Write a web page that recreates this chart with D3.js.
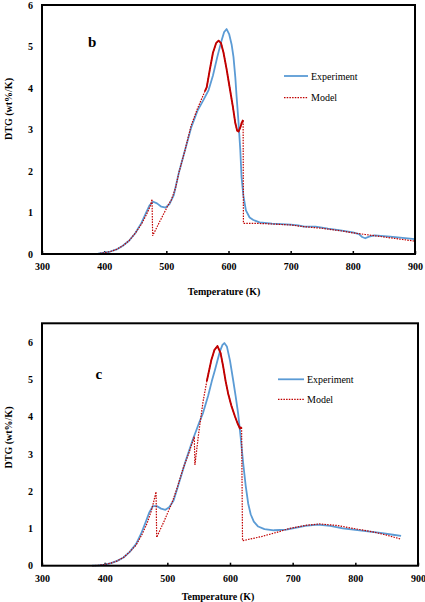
<!DOCTYPE html>
<html><head><meta charset="utf-8">
<script src="https://cdn.jsdelivr.net/npm/d3@7"></script>
<style>html,body{margin:0;padding:0;background:#fff;}svg{display:block;}
svg text{font-family:"Liberation Serif","Times New Roman",Times,serif;}</style>
</head><body>
<svg id="c" width="425" height="602"></svg>
<script>
// ---- data ----
const xTicks = [300, 400, 500, 600, 700, 800, 900];
const yTicksB = [0, 1, 2, 3, 4, 5, 6];
const yTicksC = [0, 1, 2, 3, 4, 5, 6];
const seriesNames = ["Experiment", "Model"];

// Panel b
const expB_T = [380,390,400,410,420,430,440,450,460,467,473,479,485,492,499,505,512,520,530,540,550,560,568,575,582,588,593,597,601,605,608,611,613,616,619,621,624,628,634,640,650,670,700,712,722,740,760,780,800,810,815,820,826,835,860,880,900];
const expB_V = [0,0.01,0.03,0.06,0.11,0.2,0.32,0.5,0.75,0.98,1.17,1.26,1.22,1.14,1.12,1.2,1.42,1.95,2.5,3.05,3.45,3.72,3.95,4.3,4.75,5.1,5.35,5.42,5.3,5.05,4.75,4.25,3.8,3.2,2.5,1.85,1.4,1.05,0.88,0.82,0.76,0.73,0.71,0.69,0.66,0.66,0.61,0.57,0.52,0.48,0.41,0.38,0.42,0.45,0.42,0.39,0.36];
const modB_T = [380,390,400,410,420,430,440,450,460,468,474,477,478,490,503,508,515,520,530,540,550,558,562,565,570,575,580,584,588,592,597,602,607,611,614,616,619,621,623.5,624,640,660,700,720,750,780,800,820,840,860,880,900];
const modB_V = [0,0.01,0.03,0.06,0.11,0.2,0.32,0.5,0.72,0.95,1.15,1.32,0.44,0.8,1.18,1.3,1.6,1.95,2.5,3.1,3.5,3.78,3.92,4.02,4.45,4.85,5.08,5.14,5.08,4.85,4.45,4.0,3.55,3.15,2.97,2.95,3.05,3.15,3.23,0.74,0.74,0.73,0.7,0.66,0.62,0.56,0.51,0.47,0.43,0.39,0.35,0.31];

// Panel c
const expC_T = [380,390,400,410,420,430,440,450,458,465,471,477,483,490,497,503,510,520,530,540,550,557,565,571,576,580,584,588,591,595,600,605,609,613,617,621,625,629,633,638,645,655,670,690,700,720,740,760,780,800,820,840,860,873];
const expC_V = [0,0.01,0.03,0.07,0.13,0.22,0.37,0.58,0.85,1.15,1.42,1.6,1.6,1.53,1.5,1.57,1.75,2.3,2.85,3.35,3.8,4.1,4.55,4.95,5.25,5.5,5.75,5.92,5.97,5.88,5.5,4.98,4.55,4.08,3.45,2.75,2.15,1.67,1.38,1.18,1.05,0.98,0.95,0.97,1.0,1.07,1.1,1.07,1.0,0.96,0.92,0.88,0.83,0.8];
const modC_T = [380,390,400,410,420,430,440,450,460,468,474,478,482,483,495,507,515,525,535,543,544,550,557,563,570,575,580,585,589,593,597,602,608,612,616,618.5,620,650,680,695,720,743,770,800,830,850,873];
const modC_V = [0,0.01,0.03,0.07,0.13,0.22,0.37,0.55,0.85,1.15,1.45,1.7,1.98,0.76,1.2,1.67,2.05,2.6,3.05,3.46,2.7,3.55,4.4,4.95,5.5,5.78,5.89,5.7,5.35,4.95,4.62,4.3,4.0,3.82,3.68,3.72,0.67,0.78,0.92,1.0,1.08,1.12,1.08,0.99,0.9,0.82,0.71];

// ---- drawing ----
const svg = d3.select("#c");
const BLUE = "#5b9bd5", RED = "#c00000";

function panel(o) {
  const x = d3.scaleLinear().domain([300, 900]).range([o.x0, o.x1]);
  const y = d3.scaleLinear().domain([0, o.ymax]).range([o.y1, o.y0]);
  const g = svg.append("g");
  const exp = o.eT.map((t, i) => [t, o.eV[i]]);
  const mod = o.mT.map((t, i) => [t, o.mV[i]]);
  const line = d3.line().x(d => x(d[0])).y(d => y(d[1]));

  const xa = g.append("g").attr("transform", `translate(0,${o.y1})`)
    .call(d3.axisBottom(x).tickValues(xTicks).tickSize(-3).tickPadding(9).tickFormat(d3.format("d")));
  xa.attr("font-family", null);
  xa.select(".domain").remove();
  xa.selectAll("line").attr("stroke", "#000").attr("stroke-width", 1.5);
  xa.selectAll("text").attr("font-weight", "bold").attr("font-size", 10).attr("fill", "#000");

  const ya = g.append("g").attr("transform", `translate(${o.x0},0)`)
    .call(d3.axisLeft(y).tickValues(o.yTicks).tickSize(0).tickPadding(9).tickFormat(d3.format("d")));
  ya.attr("font-family", null);
  ya.select(".domain").remove();
  ya.selectAll("text").attr("font-weight", "bold").attr("font-size", 10).attr("fill", "#000");

  g.append("path").datum(exp).attr("d", line).attr("fill", "none")
    .attr("stroke", BLUE).attr("stroke-width", 1.8).attr("stroke-linejoin", "round");
  g.append("path").datum(mod).attr("d", line).attr("fill", "none")
    .attr("stroke", RED).attr("stroke-width", 1.2).attr("stroke-dasharray", "1.5,1.2");
  const jumpIdx = mod.findIndex((d, i) => i > 0 && d[0] > 600 && mod[i - 1][1] - d[1] > 1.5);
  const dense = mod.filter((d, i) => d[0] >= o.solidFrom && i < jumpIdx);
  g.append("path").datum(dense).attr("d", line).attr("fill", "none")
    .attr("stroke", RED).attr("stroke-width", 1.9).attr("stroke-linejoin", "round");

  g.append("rect").attr("x", o.x0).attr("y", o.y0).attr("width", o.x1 - o.x0).attr("height", o.y1 - o.y0)
    .attr("fill", "none").attr("stroke", "#000").attr("stroke-width", 2);

  g.append("text").attr("x", o.lx).attr("y", o.ly).text(o.letter)
    .attr("font-weight", "bold").attr("font-size", 15);

  const L = [{ n: seriesNames[0], c: BLUE, dash: null, w: 1.8, yy: o.legY[0] },
             { n: seriesNames[1], c: RED, dash: "1.5,1.2", w: 1.2, yy: o.legY[1] }];
  L.forEach(l => {
    g.append("line").attr("x1", o.legX).attr("x2", o.legX + o.legW).attr("y1", l.yy).attr("y2", l.yy)
      .attr("stroke", l.c).attr("stroke-width", l.w).attr("stroke-dasharray", l.dash);
    g.append("text").attr("x", o.legX + o.legW + 3).attr("y", l.yy).attr("dy", "0.35em").text(l.n)
      .attr("font-size", 10);
  });

  g.append("text").attr("x", o.xtX).attr("y", o.xtY).attr("text-anchor", "middle")
    .text("Temperature (K)").attr("font-weight", "bold").attr("font-size", 10);
  g.append("text").attr("transform", `translate(${o.ytX},${o.ytY}) rotate(-90)`).attr("text-anchor", "middle")
    .text("DTG (wt%/K)").attr("font-weight", "bold").attr("font-size", 10);
}

panel({ x0: 42, x1: 415, y0: 5, y1: 254, ymax: 6, yTicks: yTicksB, eT: expB_T, eV: expB_V, mT: modB_T, mV: modB_V,
  solidFrom: 562, letter: "b", lx: 88, ly: 46.7, legX: 284, legW: 24, legY: [76, 97.7], xtX: 224, xtY: 294.5, ytX: 12, ytY: 109 });
panel({ x0: 42, x1: 418, y0: 323.3, y1: 565.7, ymax: 6.5, yTicks: yTicksC, eT: expC_T, eV: expC_V, mT: modC_T, mV: modC_V,
  solidFrom: 563, letter: "c", lx: 95.5, ly: 379.3, legX: 278, legW: 26, legY: [379.3, 399.3], xtX: 218, xtY: 599.5, ytX: 12, ytY: 437.5 });
</script>
</body></html>
